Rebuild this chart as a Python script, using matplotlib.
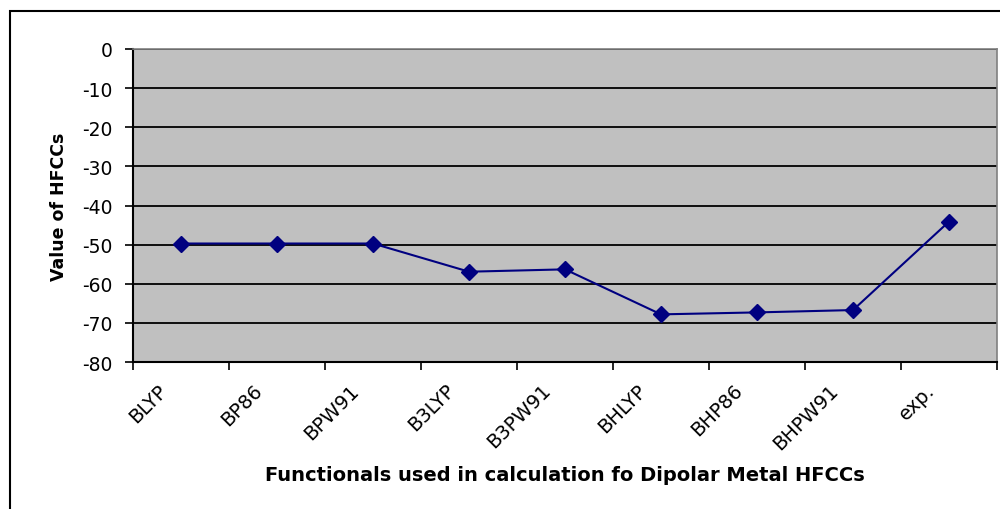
import numpy as np
import matplotlib
matplotlib.use("Agg")
import matplotlib.pyplot as plt
import matplotlib.transforms as mtransforms
from matplotlib.patches import Rectangle

plt.rcParams['font.family'] = ['DejaVu Sans']

functionals = ["BLYP", "BP86", "BPW91", "B3LYP", "B3PW91", "BHLYP", "BHP86", "BHPW91", "exp."]
hfcc_values = [-49.7, -49.7, -49.7, -56.9, -56.3, -67.8, -67.3, -66.7, -44.1]
y_ticks = [0, -10, -20, -30, -40, -50, -60, -70, -80]

fig = plt.figure(figsize=(10, 5.1), dpi=100)
# outer chart frame
fig.patches.append(Rectangle((0.010, -0.05), 1.2, 1.026, transform=fig.transFigure,
                             fill=False, edgecolor="black", linewidth=1.5, zorder=0))

ax = fig.add_axes([0.133, 0.288, 0.864, 0.614])
ax.set_facecolor("#C0C0C0")

x = np.arange(len(functionals))
ax.plot(x, hfcc_values, color="#000080", linewidth=1.5, marker="D", markersize=8,
        markerfacecolor="#000080", markeredgecolor="#000080", zorder=3)

ax.set_ylim(-80, 0)
ax.set_yticks(y_ticks)
ax.set_yticklabels([str(v) for v in y_ticks], fontsize=13.5)
ax.yaxis.grid(True, color="black", linewidth=1.3)
ax.set_axisbelow(True)

ax.set_xlim(-0.5, len(functionals) - 0.5)
ax.set_xticks(x)
ax.set_xticks(np.arange(-0.5, len(functionals)), minor=True)
ax.tick_params(axis="x", which="major", length=0, pad=13)
ax.tick_params(axis="x", which="minor", length=6, width=1.2, direction="out")
ax.tick_params(axis="y", length=6, width=1.2, direction="out", pad=9)
ax.set_xticklabels(functionals, rotation=45, ha="right", rotation_mode="anchor", fontsize=14)
shift = mtransforms.ScaledTranslation(-24 / 100, 0, fig.dpi_scale_trans)
for lbl in ax.get_xticklabels():
    lbl.set_transform(lbl.get_transform() + shift)

for side in ["left", "bottom"]:
    ax.spines[side].set_color("black")
    ax.spines[side].set_linewidth(1.5)
for side in ["top", "right"]:
    ax.spines[side].set_color("#808080")
    ax.spines[side].set_linewidth(1.2)

ax.set_ylabel("Value of HFCCs", fontsize=12.5, fontweight="bold", labelpad=10)
ax.set_xlabel("Functionals used in calculation fo Dipolar Metal HFCCs", fontsize=14,
              fontweight="bold", labelpad=9)

fig.savefig("out.png", dpi=100)
